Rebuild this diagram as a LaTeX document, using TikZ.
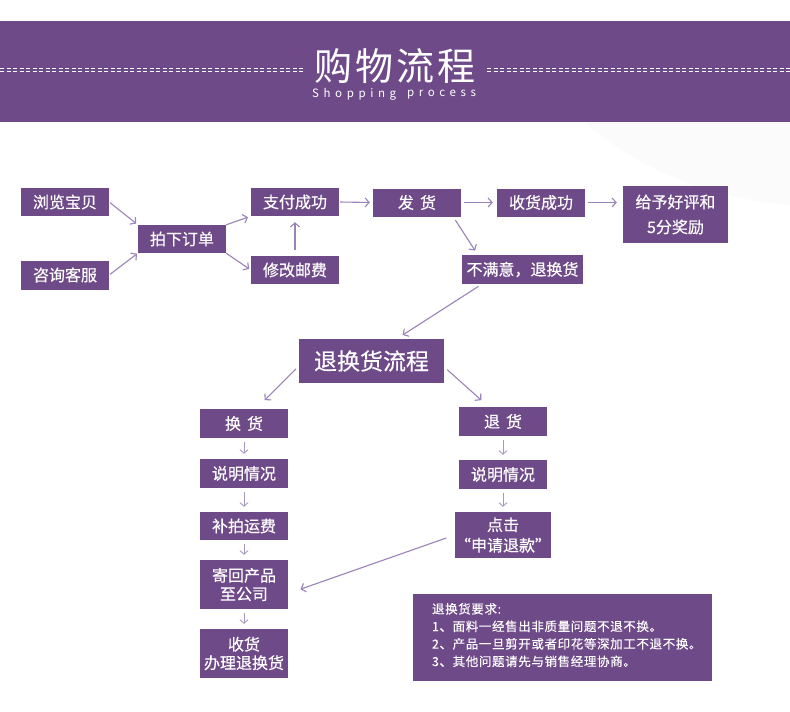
\documentclass[tikz,border=0pt]{standalone}
\usepackage{fontspec}
\setmainfont{Noto Sans CJK SC}
\usetikzlibrary{arrows.meta}
\definecolor{pur}{HTML}{6F4A89}
\definecolor{arrc}{HTML}{9A83B6}
\definecolor{varr}{HTML}{A898BC}
\newcommand{\fsz}[2]{\fontsize{#1}{#2}\selectfont}
\begin{document}
\begin{tikzpicture}[x=1pt,y=-1pt,
  box/.style={fill=pur,text=white,inner sep=0pt,minimum width=88pt,minimum height=28pt,align=center,font=\fsz{16}{18.5}\addfontfeature{FakeBold=0.4}},
  arr/.style={draw=arrc,line width=1.1pt,-{Straight Barb[length=4pt,width=9pt]}},
  varrow/.style={draw=varr,line width=0.9pt,-{Straight Barb[length=3.5pt,width=8pt]},shorten <=4pt,shorten >=5pt},
  subtxt/.style={text=white,inner sep=0pt,anchor=west,font=\fsz{11.5}{13}\addfontfeature{LetterSpace=40}}]
\useasboundingbox (0,0) rectangle (790,712);
\fill[white] (0,0) rectangle (790,712);
\fill[black!1.5] (585,122) .. controls (650,180) and (730,200) .. (790,205) -- (790,122) -- cycle;
\fill[pur] (0,21) rectangle (790,122);
\node[text=white,inner sep=0pt,font=\fsz{38}{40}\addfontfeature{LetterSpace=8}] (title) at (395,66) {购物流程};
\node[subtxt] (sub1) at (312,94.5) {Shopping};
\node[subtxt] (sub2) at (407,94.5) {process};
\foreach \yy in {68.3,71.5}{
  \draw[white,line width=0.9pt,dash pattern=on 4pt off 2.5pt] (0,\yy) -- (303,\yy);
  \draw[white,line width=0.9pt,dash pattern=on 4pt off 2.5pt] (487,\yy) -- (790,\yy);
}
% top flow
\node[box] (browse) at (65,202) {浏览宝贝};
\node[box,minimum height=29pt] (consult) at (65,275) {咨询客服};
\node[box] (order) at (182,239) {拍下订单};
\node[box] (pay) at (295,202) {支付成功};
\node[box] (modify) at (295,270) {修改邮费};
\node[box] (ship) at (417,202.5) {发\hspace{6pt}货};
\node[box] (recv) at (541,202.5) {收货成功};
\node[box,minimum width=105pt,minimum height=57pt,font=\fsz{16}{25}\addfontfeature{FakeBold=0.4}] (review) at (675.5,214.5) {给予好评和\\5分奖励};
\node[box,minimum width=121pt,minimum height=29pt] (unsat) at (522.5,269.5) {不满意，退换货};
\node[box,minimum width=145pt,minimum height=44pt,font=\fsz{23}{26}\addfontfeature{FakeBold=0.4}] (flow) at (371.5,361) {退换货流程};
% exchange column
\node[box,minimum height=29pt] (exch) at (244,423.5) {换\hspace{6pt}货};
\node[box,minimum height=29pt] (l2) at (244,473.5) {说明情况};
\node[box] (l3) at (244,526) {补拍运费};
\node[box,minimum height=49pt] (l4) at (244,584.5) {寄回产品\\至公司};
\node[box,minimum height=49pt] (l5) at (244,653.5) {收货\\办理退换货};
% return column
\node[box,minimum height=29pt] (ret) at (503,421.5) {退\hspace{6pt}货};
\node[box,minimum height=29pt] (r2) at (503,474.5) {说明情况};
\node[box,minimum height=46pt,font=\fsz{16}{20.5}\addfontfeature{FakeBold=0.4}] (r3) at (503,535) {点击\\“申请退款”};
% note
\node[fill=pur,inner sep=0pt,minimum width=299pt,minimum height=87pt] (note) at (562.5,637.5) {};
\node[anchor=north west,text=white,inner sep=0pt,align=left,font=\fsz{12.5}{17.5}\addfontfeature{LetterSpace=5,FakeBold=0.3}] (notetext) at ([xshift=19pt,yshift=-9pt]note.north west) {退换货要求:\\1、面料一经售出非质量问题不退不换。\\2、产品一旦剪开或者印花等深加工不退不换。\\3、其他问题请先与销售经理协商。};
% arrows
\draw[arr,shorten <=1pt,shorten >=2pt] (browse.east) -- (order.north west);
\draw[arr,shorten <=1pt,shorten >=1pt] (consult.east) -- (order.south west);
\draw[arr,shorten >=3pt] (order.north east) -- (pay.south west);
\draw[arr,shorten >=2pt] (order.south east) -- (modify.west);
\draw[arr,shorten <=6pt,shorten >=6pt] (modify.north) -- (pay.south);
\draw[arr,shorten <=1pt,shorten >=3pt] (pay.east) -- (ship.west);
\draw[arr,shorten <=3pt,shorten >=4pt] (ship.east) -- (recv.west);
\draw[arr,shorten <=3pt,shorten >=6pt] (recv.east) -- (recv.east -| review.west);
\draw[arr,shorten <=4pt,shorten >=5pt] ([xshift=-8pt]ship.south east) -- ([xshift=16pt]unsat.north west);
\draw[arr,shorten <=4pt,shorten >=7pt] ([xshift=20pt]unsat.south west) -- ([xshift=98pt]flow.north west);
\draw[arr,shorten <=4pt,shorten >=1pt] ([yshift=-5pt]flow.west) -- ([xshift=20pt,yshift=8pt]exch.north);
\draw[arr,shorten <=4pt,shorten >=1pt] ([yshift=-6pt]flow.east) -- ([xshift=-21pt,yshift=6pt]ret.north);
\draw[varrow] (exch.south) -- (l2.north);
\draw[varrow] (l2.south) -- (l3.north);
\draw[varrow] (l3.south) -- (l4.north);
\draw[varrow] (l4.south) -- (l5.north);
\draw[varrow] (ret.south) -- (r2.north);
\draw[varrow] (r2.south) -- (r3.north);
\draw[arr,shorten <=9pt,shorten >=13pt] (r3.west) -- ([yshift=-9pt]l4.east);
\end{tikzpicture}
\end{document}
